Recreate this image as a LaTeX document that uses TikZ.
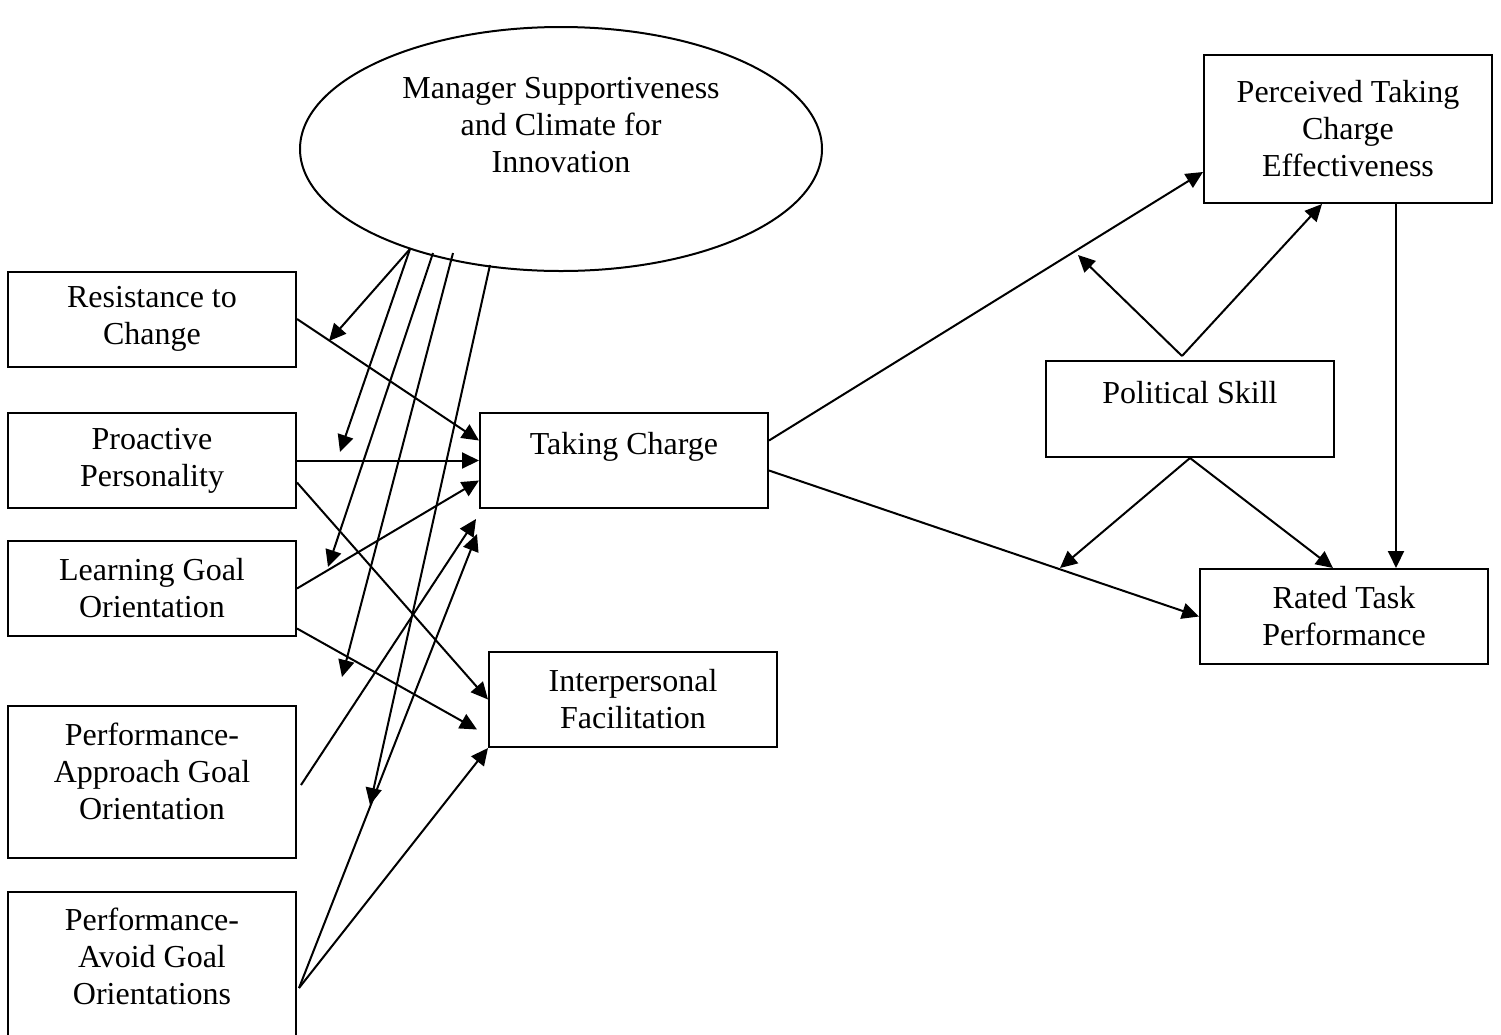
\documentclass[tikz,border=0pt]{standalone}
\usepackage{fontspec}
\setmainfont{Liberation Serif}
\usetikzlibrary{shapes.geometric,arrows.meta,calc}

\begin{document}
\begin{tikzpicture}[x=1pt,y=-1pt,line width=2pt,
    font=\fontsize{32}{37}\selectfont,
    box/.style={draw,rectangle,minimum width=288pt,minimum height=95pt,align=center,inner sep=0pt},
    tall/.style={box,minimum height=150pt},
    arr/.style={-{Triangle[length=17pt,width=16pt]}}]
    \useasboundingbox (0,0) rectangle (1501,1034);
    \node[draw,ellipse,minimum width=522pt,minimum height=244pt,inner sep=0pt] (msc) at (561,149) {};
    \node[align=center] (msctext) at (561,125) {Manager Supportiveness\\and Climate for\\Innovation};
    \node[box] (rc) at (152,319) {Resistance to\\Change};
    \node[box] (pp) at (152,460.5) {Proactive\\Personality};
    \node[box] (lg) at (152,588.5) {Learning Goal\\Orientation};
    \node[tall,minimum height=152pt] (pa) at (152,782) {Performance-\\Approach Goal\\Orientation\\[-27pt]\strut};
    \node[tall] (pv) at (152,967) {Performance-\\Avoid Goal\\Orientations\\[-27pt]\strut};
    \node[box] (tc) at (624,460.5) {Taking Charge\\[-14pt]\strut};
    \node[box] (ip) at (633,699.5) {Interpersonal\\Facilitation};
    \node[tall,minimum height=148pt] (pe) at (1348,129) {Perceived Taking\\Charge\\Effectiveness};
    \node[box,minimum height=96pt] (ps) at (1190,409) {Political Skill\\[-14pt]\strut};
    \node[box] (rt) at (1344,616.5) {Rated Task\\Performance};
    \coordinate (msc-a) at (410,249);
    \coordinate (msc-b) at (433,253);
    \coordinate (msc-c) at (453,253);
    \coordinate (msc-d) at (490,265);
    \coordinate (mod-rc) at (329,341);
    \coordinate (mod-pp) at (340,452);
    \coordinate (mod-lg) at (328,567);
    \coordinate (mod-ip) at (342,677);
    \coordinate (mod-pv) at (370,805);
    \coordinate (mod-pe) at (1078,255);
    \coordinate (mod-rt) at (1060,568);
    \draw[arr] (rc.east) -- ($(tc.west)+(0,-20)$);
    \draw[arr] (pp.east) -- (tc.west);
    \draw[arr] ($(pp.east)+(0,22)$) -- (ip.west);
    \draw[arr] (lg.east) -- ($(tc.west)+(0,20)$);
    \draw[arr] ($(lg.east)+(0,40)$) -- ($(ip.west)+(-11,30)$);
    \draw[arr] ($(pa.east)+(4,3)$) -- ($(tc.south west)+(-3,10)$);
    \draw[arr] ($(pv.east)+(2,21)$) -- ($(tc.south west)+(-2,25)$);
    \draw[arr] ($(pv.east)+(2,21)$) -- (ip.south west);
    \draw[arr] (msc-a) -- (mod-rc);
    \draw[arr] (msc-a) -- (mod-pp);
    \draw[arr] (msc-b) -- (mod-lg);
    \draw[arr] (msc-c) -- (mod-ip);
    \draw[arr] (msc-d) -- (mod-pv);
    \draw[arr] ($(tc.east)+(0,-20)$) -- ($(pe.west)+(0,43)$);
    \draw[arr] ($(tc.east)+(0,10)$) -- (rt.west);
    \draw[arr] ($(ps.north)+(-8,-4)$) -- (mod-pe);
    \draw[arr] ($(ps.north)+(-8,-4)$) -- ($(pe.south)+(-26,0)$);
    \draw[arr] (ps.south) -- (mod-rt);
    \draw[arr] (ps.south) -- ($(rt.north)+(-11,0)$);
    \draw[arr] ($(pe.south)+(48,0)$) -- ($(rt.north)+(52,0)$);
\end{tikzpicture}
\end{document}
